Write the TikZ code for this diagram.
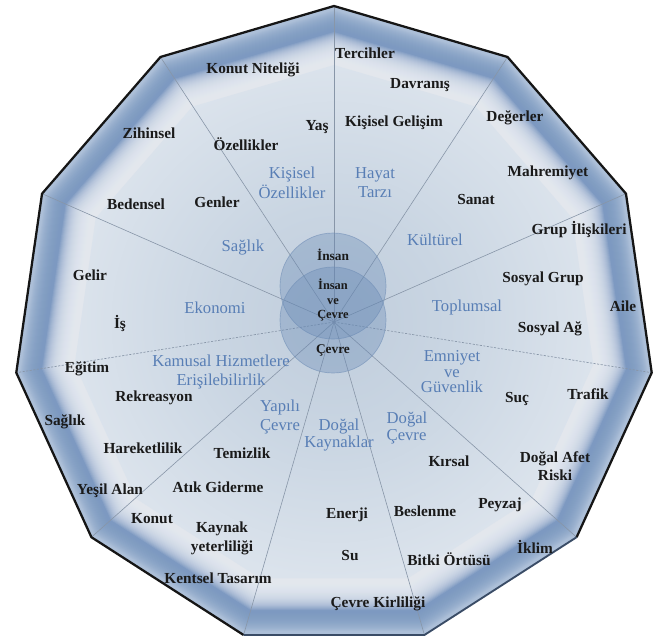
\documentclass[tikz,border=0pt]{standalone}
\usepackage{fontspec}
\setmainfont{Liberation Serif}
\definecolor{bandc}{RGB}{172,191,216}
\definecolor{bandd}{RGB}{122,152,193}
\definecolor{layerc}{RGB}{236,240,246}
\definecolor{sh0}{RGB}{192,205,220}
\definecolor{sh1}{RGB}{201,213,226}
\definecolor{sh2}{RGB}{219,227,236}
\definecolor{sh3}{RGB}{231,236,243}
\definecolor{sh4}{RGB}{236,240,246}
\definecolor{spokec}{RGB}{136,150,168}
\definecolor{circf}{RGB}{100,135,180}
\definecolor{circd}{RGB}{111,141,181}
\definecolor{labc}{RGB}{26,26,26}
\definecolor{catc}{RGB}{88,126,181}
\definecolor{edgec}{RGB}{21,21,21}
\definecolor{edges}{RGB}{58,76,102}
\pgfdeclareradialshading{bgshade}{\pgfpoint{0bp}{0bp}}{color(0bp)=(sh0); color(11bp)=(sh1); color(25bp)=(sh2); color(38bp)=(sh3); color(50bp)=(sh4); color(100bp)=(sh4)}
\tikzset{
  lab/.style={font=\fontsize{11.5}{14.3}\selectfont\bfseries, text=labc, inner sep=0pt, align=center},
  cat/.style={font=\fontsize{12.5}{14.3}\selectfont, text=catc, inner sep=0pt, align=center},
  clab/.style={font=\fontsize{10}{11}\selectfont\bfseries, text=labc, inner sep=0pt, align=center},
  spoke/.style={draw=spokec, line width=0.45pt},
  dspoke/.style={draw=spokec, line width=0.5pt, dash pattern=on 1.6pt off 1.1pt},
  disc/.style={circle, inner sep=0pt, outer sep=0pt, minimum size=79.5pt, fill=circf, fill opacity=0.34, draw=circd, draw opacity=0.6, line width=0.5pt},
}
\begin{document}
\begin{tikzpicture}[x=0.75pt,y=-0.75pt]
\useasboundingbox (0,0) rectangle (660,637);
% polygon vertices
\foreach \k in {0,...,10}{
  \coordinate (v\k) at ({334+321*cos(90-\k*360/11)},{327-321*sin(90-\k*360/11)});
}
\coordinate (O) at (334,322);
% band: light outer edge, darker shadow, fading to light interior
\fill[bandc] plot[samples at={0,...,10}] ({334+321*cos(90-\x*360/11)},{327-321*sin(90-\x*360/11)}) -- cycle;
\foreach \r in {317,316,...,298}{
  \fill[bandd, opacity=0.09] plot[samples at={0,...,10}] ({334+\r*cos(90-\x*360/11)},{327-\r*sin(90-\x*360/11)}) -- cycle;
}
\foreach \r in {295,294,...,262}{
  \fill[layerc, opacity=0.1] plot[samples at={0,...,10}] ({334+\r*cos(90-\x*360/11)},{327-\r*sin(90-\x*360/11)}) -- cycle;
}
\shade[shading=bgshade] plot[samples at={0,...,10}] ({334+262*cos(90-\x*360/11)},{327-262*sin(90-\x*360/11)}) -- cycle;
% spokes
\foreach \k in {0,1,2,4,5,6,7,9,10}{ \draw[spoke] (O) -- (v\k); }
\draw[dspoke] (O) -- (v3);
\draw[dspoke] (O) -- (v8);
% outline
\draw[edgec, line width=1.7pt, line join=miter] (v6) -- (v7) -- (v8) -- (v9) -- (v10) -- (v0) -- (v1) -- (v2) -- (v3) -- (v4);
\draw[edges, line width=1.4pt] (v4) -- (v5) -- (v6);
% circles
\node[disc] (c1) at (333,286) {};
\node[disc] (c2) at (333,320) {};
\node[clab] (ci1) at (333,255) {İnsan};
\node[clab, font=\fontsize{9.3}{10.9}\selectfont\bfseries] (ci2) at (333,300) {İnsan\\ve\\Çevre};
\node[clab] (ci3) at (333,350) {Çevre};
% category labels
\node[cat, font=\fontsize{12.5}{15}\selectfont] (k1) at (292,183) {Kişisel\\Özellikler};
\node[cat] (k2) at (375,183) {Hayat\\Tarzı};
\node[cat] (k3) at (243,248) {Sağlık};
\node[cat] (k4) at (435,240) {Kültürel};
\node[cat] (k5) at (215,308) {Ekonomi};
\node[cat] (k6) at (467,307) {Toplumsal};
\node[cat] (k7) at (221,372) {Kamusal Hizmetlere\\Erişilebilirlik};
\node[cat, font=\fontsize{12.5}{11.6}\selectfont] (k8) at (452,372) {Emniyet\\ve\\Güvenlik};
\node[cat] (k9) at (280,417) {Yapılı\\Çevre};
\node[cat, font=\fontsize{12.5}{12.5}\selectfont] (k10) at (339,435) {Doğal\\Kaynaklar};
\node[cat, align=left, font=\fontsize{12.5}{12.8}\selectfont] (k11) at (407,428) {Doğal\\Çevre};
% item labels
\node[lab] (a1) at (253,70) {Konut Niteliği};
\node[lab] (a2) at (365,53) {Tercihler};
\node[lab] (a3) at (420,85) {Davranış};
\node[lab] (a4) at (149,133) {Zihinsel};
\node[lab] (a5) at (317,127) {Yaş};
\node[lab] (a6) at (394,123) {Kişisel Gelişim};
\node[lab] (a7) at (515,118) {Değerler};
\node[lab] (a8) at (246,144) {Özellikler};
\node[lab] (a9) at (548,173) {Mahremiyet};
\node[lab] (a10) at (476,199) {Sanat};
\node[lab] (a11) at (136,204) {Bedensel};
\node[lab] (a12) at (217,202) {Genler};
\node[lab] (a13) at (579,230) {Grup İlişkileri};
\node[lab] (a14) at (90,275) {Gelir};
\node[lab] (a15) at (543,279) {Sosyal Grup};
\node[lab] (a16) at (623,306) {Aile};
\node[lab] (a17) at (120,323) {İş};
\node[lab] (a18) at (550,329) {Sosyal Ağ};
\node[lab] (a19) at (87,369) {Eğitim};
\node[lab] (a20) at (154,398) {Rekreasyon};
\node[lab] (a21) at (517,399) {Suç};
\node[lab] (a22) at (588,394) {Trafik};
\node[lab] (a23) at (65,422) {Sağlık};
\node[lab] (a24) at (143,448) {Hareketlilik};
\node[lab] (a25) at (242,453) {Temizlik};
\node[lab] (a26) at (449,461) {Kırsal};
\node[lab, font=\fontsize{11.5}{13.5}\selectfont\bfseries] (a27) at (555,466) {Doğal Afet\\Riski};
\node[lab] (a28) at (110,491) {Yeşil Alan};
\node[lab] (a29) at (218,487) {Atık Giderme};
\node[lab] (a30) at (500,505) {Peyzaj};
\node[lab] (a31) at (425,511) {Beslenme};
\node[lab] (a32) at (347,515) {Enerji};
\node[lab] (a33) at (152,519) {Konut};
\node[lab] (a34) at (222,538) {Kaynak\\yeterliliği};
\node[lab] (a35) at (535,547) {İklim};
\node[lab] (a36) at (350,556) {Su};
\node[lab] (a37) at (449,559) {Bitki Örtüsü};
\node[lab] (a38) at (218,578) {Kentsel Tasarım};
\node[lab] (a39) at (378,604) {Çevre Kirliliği};
\end{tikzpicture}
\end{document}
